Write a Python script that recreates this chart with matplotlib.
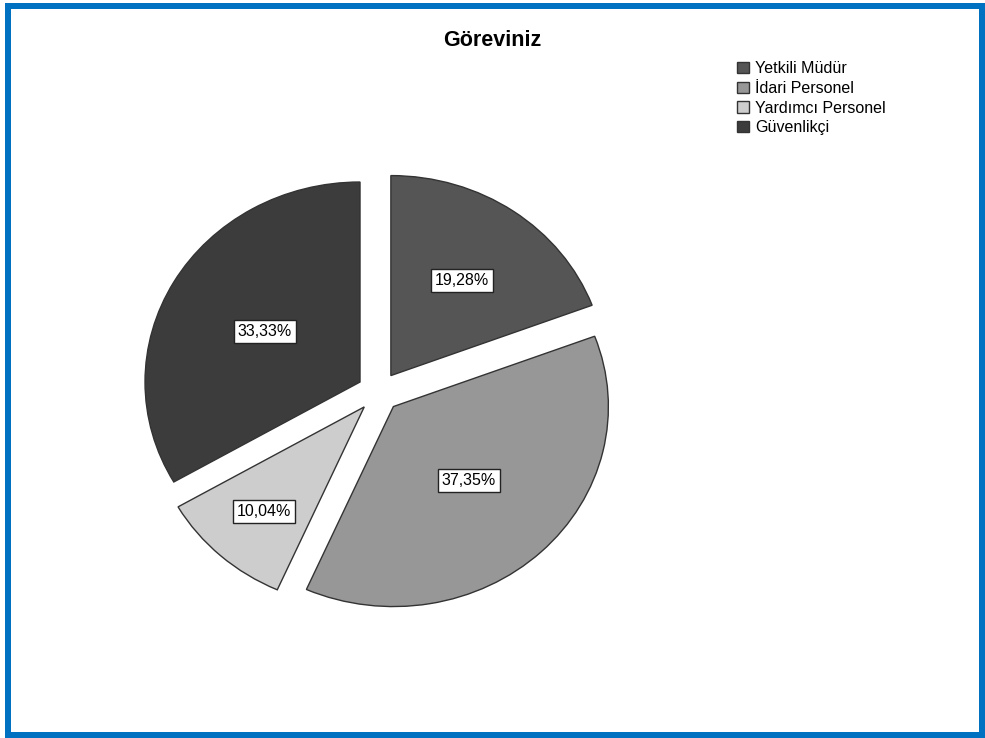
import numpy as np
import matplotlib.pyplot as plt
from matplotlib.patches import Rectangle, Patch

plt.rcParams['font.family'] = ['Liberation Sans', 'DejaVu Sans']

# Görev dağılımı (%)
categories = ['Yetkili Müdür', 'İdari Personel', 'Yardımcı Personel', 'Güvenlikçi']
shares = [19.28, 37.35, 10.04, 33.33]
colors = ['#555555', '#979797', '#cdcdcd', '#3c3c3c']
# radial position of each percentage box, from the exploded slice centre
label_dist = [0.58, 0.51, 0.70, 0.51]

fig = plt.figure(figsize=(9.85, 7.38), dpi=100)
ax = fig.add_axes([0.0570, 0.0623, 0.6548, 0.813])

wedges, _ = ax.pie(shares, colors=colors, startangle=90, counterclock=False,
                   explode=[0.1] * len(shares),
                   wedgeprops=dict(edgecolor='#333333', linewidth=1.0))
ax.set_aspect('auto')
ax.set_xlim(-1.5, 1.5)
ax.set_ylim(-1.5, 1.5)
ax.axis('off')

for w, v, d in zip(wedges, shares, label_dist):
    mid = np.deg2rad((w.theta1 + w.theta2) / 2)
    cx, cy = w.center
    ax.text(cx + d * np.cos(mid), cy + d * np.sin(mid),
            f'{v:.2f}%'.replace('.', ','), ha='center', va='center',
            fontsize=11.5, color='black',
            bbox=dict(boxstyle='square,pad=0.25', fc='white', ec='#222222', lw=1.0))

fig.text(0.5, 1 - 41 / 738, 'Göreviniz', ha='center', va='center',
         fontsize=15.5, fontweight='bold')

handles = [Patch(facecolor=c, edgecolor='#333333', linewidth=1.0) for c in colors]
fig.legend(handles, categories, loc='upper left',
           bbox_to_anchor=(737 / 985, 1 - 61 / 738), frameon=False,
           fontsize=11.5, handlelength=0.72, handleheight=0.72,
           handletextpad=0.4, labelspacing=0.3, borderpad=0, borderaxespad=0)

# blue frame around the chart
fig.patches.append(Rectangle((8 / 985, 3 / 738), 974 / 985, 729 / 738,
                             transform=fig.transFigure, fill=False,
                             edgecolor='#0070C0', linewidth=4.32))

fig.savefig('out.png', dpi=100)
